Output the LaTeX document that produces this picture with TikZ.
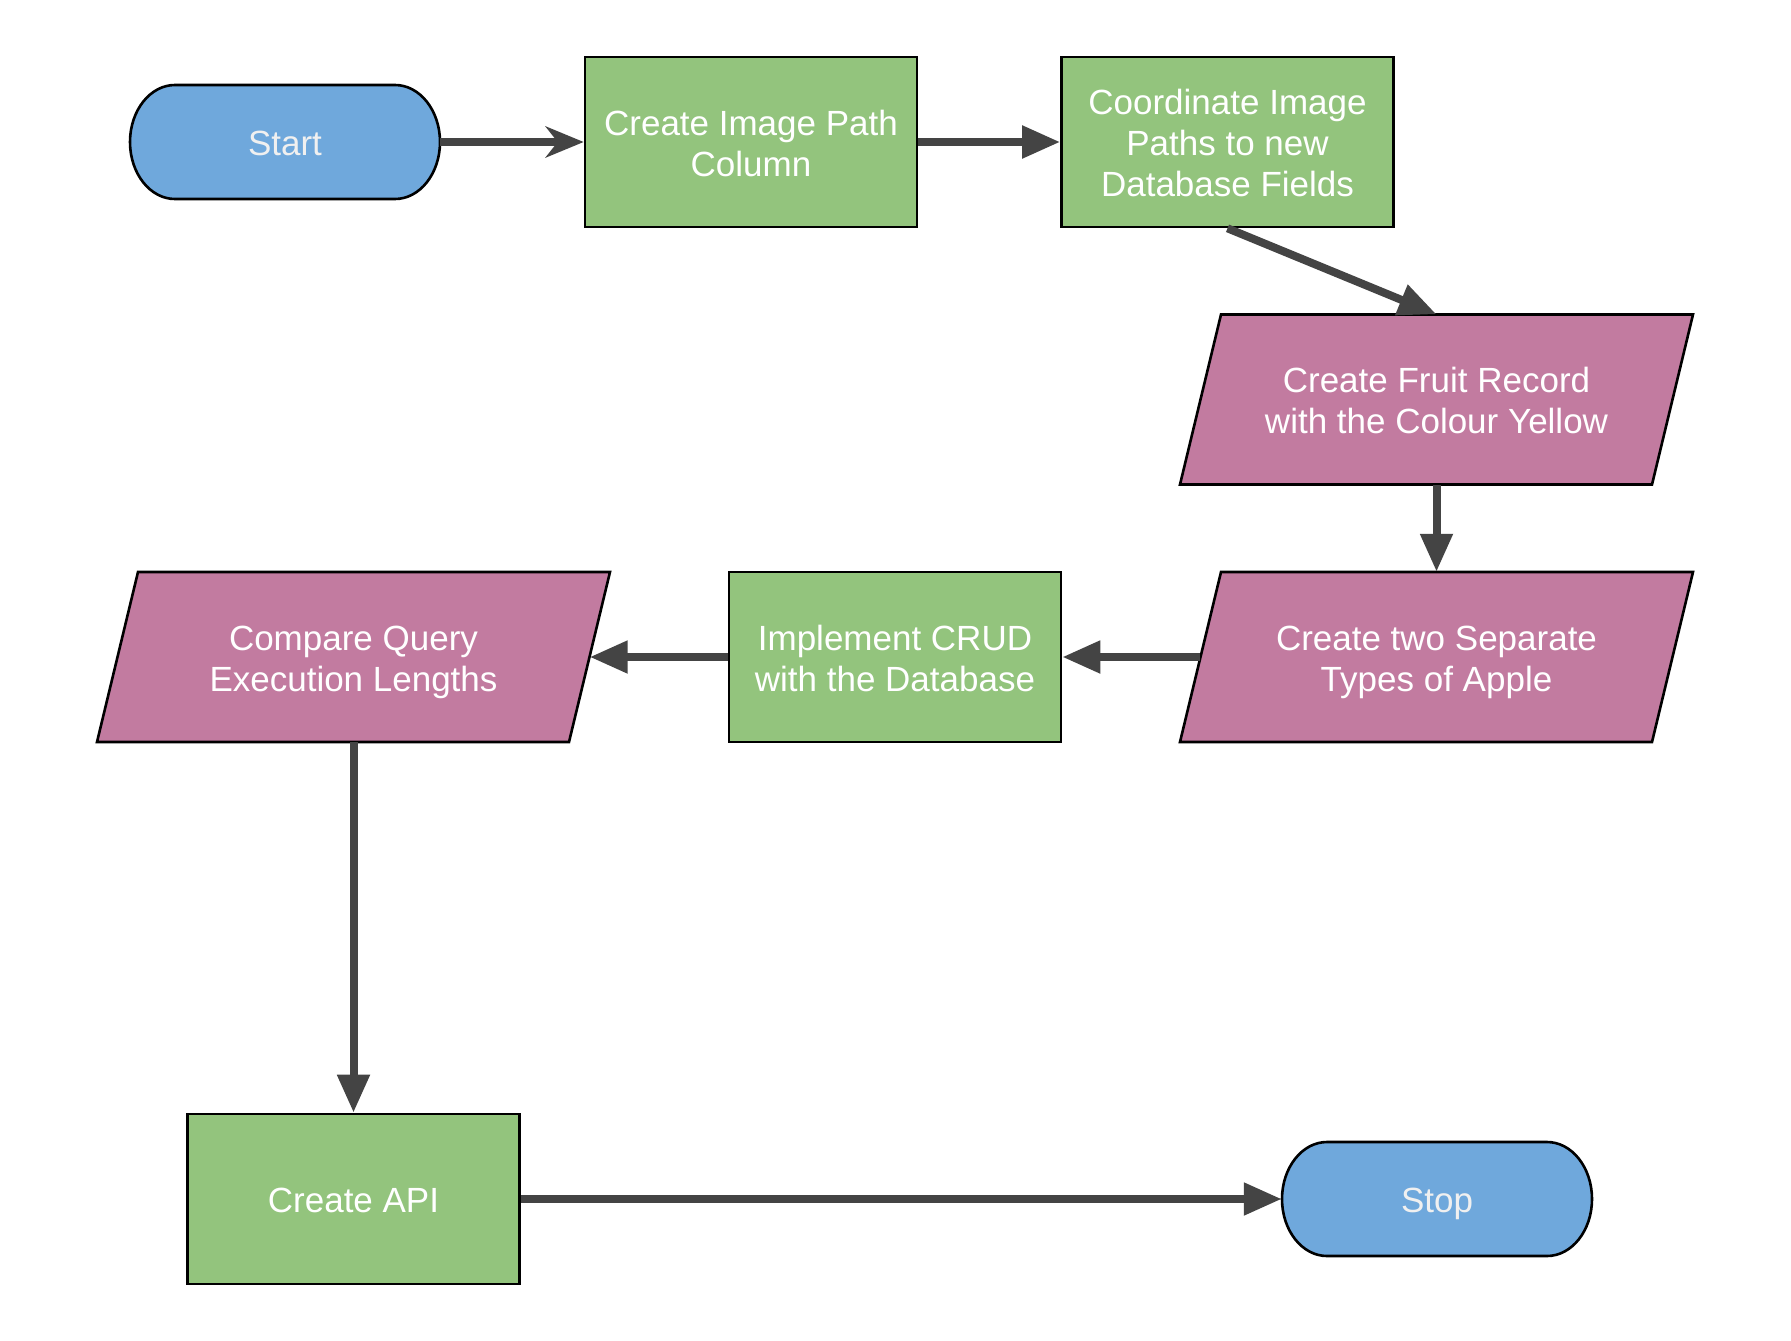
\documentclass[tikz,border=0pt]{standalone}
\usepackage{fontspec}
\setmainfont{Liberation Sans}
\usetikzlibrary{arrows.meta}
\definecolor{termblue}{HTML}{6FA8DC}
\definecolor{procgreen}{HTML}{93C47D}
\definecolor{iopink}{HTML}{C27BA0}
\definecolor{arrowgray}{HTML}{444444}
\definecolor{termtextcol}{HTML}{F0F0F0}
% text block whose first baseline is raised by #1; it takes no vertical room
\newcommand\boxtext[2]{\raisebox{#1}[0pt][0pt]{\begin{tabular}[t]{@{}c@{}}#2\end{tabular}}}
\newcommand\onel[1]{\boxtext{-13pt}{#1}}
\newcommand\twol[1]{\boxtext{7pt}{#1}}
\newcommand\threel[1]{\boxtext{27.5pt}{#1}}
\tikzset{
  lbl/.style={text=white, font=\fontsize{35}{41}\selectfont, inner sep=0pt},
  proc/.style={lbl, draw=black, line width=2.6pt, fill=procgreen, minimum width=332pt, minimum height=170pt},
  termshape/.style={draw=black, line width=2.6pt, fill=termblue},
  ioshape/.style={draw=black, line width=2.6pt, fill=iopink},
  termtext/.style={lbl, text=termtextcol, minimum width=310pt, minimum height=114pt},
  iotext/.style={lbl, minimum width=472pt, minimum height=170pt},
  flow/.style={draw=arrowgray, line width=8pt, -{Triangle[length=38pt,width=31pt]}},
}
\newcommand\termpath[2]{%
  \path[termshape] (#1-110,#2-57) -- (#1+110,#2-57)
    arc[start angle=90, end angle=-90, x radius=45pt, y radius=57pt]
    -- (#1-110,#2+57)
    arc[start angle=270, end angle=90, x radius=45pt, y radius=57pt] -- cycle;}
\newcommand\iopath[2]{%
  \path[ioshape] (#1-215.5,#2-85) -- (#1+256.5,#2-85) -- (#1+215.5,#2+85) -- (#1-256.5,#2+85) -- cycle;}
\begin{document}
\begin{tikzpicture}[x=1pt,y=-1pt]
  \path[use as bounding box, fill=white] (0,0) rectangle (1791,1341);

  \termpath{285}{142}
  \node[termtext] (start) at (285,142) {\onel{Start}};
  \node[proc] (img) at (751,142) {\twol{Create Image Path\\Column}};
  \node[proc] (coord) at (1227.5,142) {\threel{Coordinate Image\\Paths to new\\Database Fields}};
  \iopath{1436.5}{399.5}
  \node[iotext] (fruit) at (1436.5,399.5) {\twol{Create Fruit Record\\with the Colour Yellow}};
  \iopath{1436.5}{657}
  \node[iotext] (two) at (1436.5,657) {\twol{Create two Separate\\Types of Apple}};
  \node[proc] (crud) at (895,657) {\twol{Implement CRUD\\with the Database}};
  \iopath{353.5}{657}
  \node[iotext] (cmp) at (353.5,657) {\twol{Compare Query\\Execution Lengths}};
  \node[proc] (api) at (353.5,1199) {\onel{Create API}};
  \termpath{1437}{1199}
  \node[termtext] (stop) at (1437,1199) {\onel{Stop}};

  \draw[flow, -{Stealth[length=38pt,width=31pt,inset=12pt]}] (start) -- (img);
  \draw[flow] (img) -- (coord);
  \draw[flow] (coord.south) -- (fruit.north);
  \draw[flow] (fruit) -- (two);
  \draw[flow] (two) -- (crud);
  \draw[flow] (crud) -- (cmp);
  \draw[flow] (cmp) -- (api);
  \draw[flow] (api) -- (stop);
\end{tikzpicture}
\end{document}
